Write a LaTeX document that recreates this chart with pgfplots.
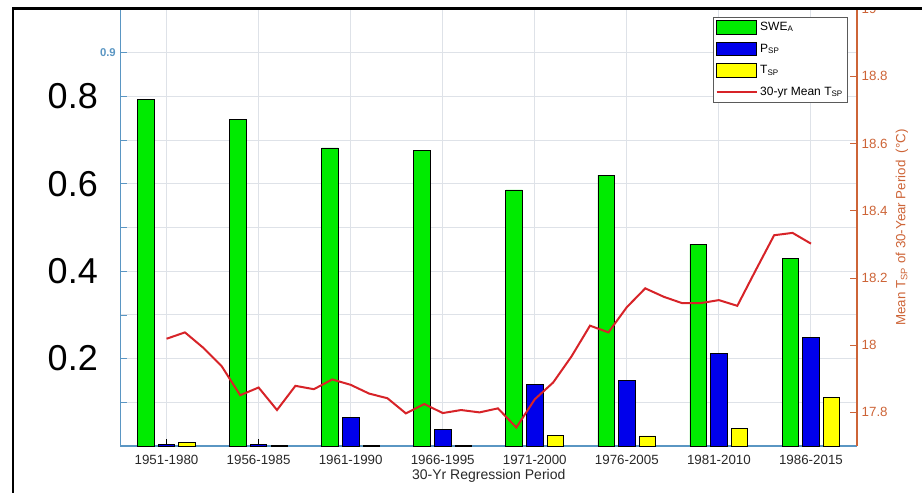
\documentclass[border=0pt]{standalone}
\usepackage{fontspec}
\setmainfont{Liberation Sans}
\usepackage{pgfplots}
\pgfplotsset{compat=1.18}
\usepackage{pgfplotstable}

\definecolor{swegreen}{RGB}{0,235,0}
\definecolor{pblue}{RGB}{0,0,235}
\definecolor{tyellow}{RGB}{255,255,0}
\definecolor{meanred}{RGB}{215,35,40}
\definecolor{leftaxis}{RGB}{90,150,195}
\definecolor{rightaxis}{RGB}{205,100,55}
\definecolor{gridgray}{RGB}{222,226,232}
\definecolor{ticktext}{RGB}{40,40,40}
\definecolor{legframe}{RGB}{90,90,90}

% regression weights per 30-year period
\pgfplotstableread{
period swe   psp   tsp
1      0.794 0.003 0.009
2      0.748 0.003 0.001
3      0.682 0.066 0.002
4      0.677 0.037 0.001
5      0.586 0.140 0.024
6      0.620 0.149 0.023
7      0.462 0.211 0.040
8      0.430 0.248 0.111
}\regression

% 30-yr running mean of T_SP, one value per start year (1951 ... 1986)
\pgfplotstableread{
x   T
1.0 18.019
1.2 18.038
1.4 17.992
1.6 17.937
1.8 17.851
2.0 17.874
2.2 17.807
2.4 17.879
2.6 17.869
2.8 17.898
3.0 17.882
3.2 17.856
3.4 17.842
3.6 17.797
3.8 17.825
4.0 17.798
4.2 17.807
4.4 17.800
4.6 17.812
4.8 17.755
5.0 17.839
5.2 17.889
5.4 17.967
5.6 18.058
5.8 18.038
6.0 18.113
6.2 18.169
6.4 18.144
6.6 18.125
6.8 18.125
7.0 18.134
7.2 18.117
7.4 18.223
7.6 18.327
7.8 18.334
8.0 18.302
}\meantemp

\pgfplotsset{
  commonframe/.style={
    width=552.375pt, height=327.75pt, scale only axis,
    at={(90.375pt,-334.5pt)}, anchor=south west,
    xmin=0.5, xmax=8.5,
    tick align=inside, major tick length=5.25pt,
  },
  barstyle/.style={ybar, bar width=0.18, draw=black, line width=0.6pt},
  boxlegend/.style={legend image code/.code={\draw[##1] (0pt,-5pt) rectangle (30pt,5pt);}},
  linelegend/.style={legend image code/.code={\draw[##1] (0pt,0pt) -- (30pt,0pt);}},
}

\begin{document}
\begin{tikzpicture}
\useasboundingbox (0,0) rectangle (691.5pt,-369.75pt);
\begin{scope}
\clip (0,-5.25pt) rectangle (691.5pt,-369.75pt);

\begin{axis}[
  commonframe,
  ymin=0, ymax=1,
  axis x line*=bottom, axis y line*=left,
  x axis line style={leftaxis, line width=0.8pt},
  y axis line style={leftaxis, line width=0.8pt},
  xtick={1,2,3,4,5,6,7,8},
  xticklabels={1951-1980,1956-1985,1961-1990,1966-1995,1971-2000,1976-2005,1981-2010,1986-2015},
  xticklabel style={font=\fontsize{10}{12}\selectfont, ticktext, yshift=-3.5pt},
  xtick style={black, line width=0.6pt},
  ytick={0,0.1,0.2,0.3,0.4,0.5,0.6,0.7,0.8,0.9,1},
  yticklabels={,,,,,,,,,0.9,},
  yticklabel style={font=\fontsize{8.5}{9}\selectfont\bfseries, leftaxis},
  ytick style={leftaxis, line width=0.6pt},
  extra y ticks={0.2,0.4,0.6,0.8},
  extra y tick labels={0.2,0.4,0.6,0.8},
  extra y tick style={yticklabel style={font=\fontsize{27}{28}\selectfont, black, xshift=-13.5pt}},
  xmajorgrids, ymajorgrids,
  grid style={gridgray, line width=0.75pt},
  xlabel={30-Yr Regression Period},
  xlabel style={font=\fontsize{10.5}{12}\selectfont, ticktext,
    at={(axis description cs:0.5,0)}, anchor=center, yshift=-22.5pt},
]
\addplot[barstyle, bar shift=-0.224, fill=swegreen] table[x=period, y=swe] {\regression};
\addplot[barstyle, bar shift=0,      fill=pblue]    table[x=period, y=psp] {\regression};
\addplot[barstyle, bar shift=0.224,  fill=tyellow]  table[x=period, y=tsp] {\regression};
\end{axis}

\begin{axis}[
  commonframe,
  ymin=17.7, ymax=19,
  axis y line*=right, axis x line=none,
  y axis line style={rightaxis, line width=0.8pt},
  ytick={17.8,18,18.2,18.4,18.6,18.8,19},
  yticklabel style={font=\fontsize{10}{12}\selectfont, rightaxis},
  /pgf/number format/assume math mode=true,
  ytick style={rightaxis, line width=0.6pt},
  ylabel={Mean T\textsubscript{SP} of 30-Year Period\ \ (°C)},
  ylabel style={font=\fontsize{10}{12}\selectfont, rightaxis,
    at={(axis description cs:1,0.5)}, anchor=center, yshift=-33.75pt},
  legend cell align=left,
  legend style={at={(axis description cs:0.9878,0.9817)}, anchor=north east,
    draw=legframe, line width=0.6pt, fill=white,
    font=\fontsize{9}{10}\selectfont, inner sep=1.5pt, row sep=4.5pt},
]
\addlegendimage{boxlegend, fill=swegreen, draw=black, line width=0.6pt}
\addlegendentry{SWE\textsubscript{A}}
\addlegendimage{boxlegend, fill=pblue, draw=black, line width=0.6pt}
\addlegendentry{P\textsubscript{SP}}
\addlegendimage{boxlegend, fill=tyellow, draw=black, line width=0.6pt}
\addlegendentry{T\textsubscript{SP}}
\addplot[meanred, line width=1.5pt, linelegend] table[x=x, y=T] {\meantemp};
\addlegendentry{30-yr Mean T\textsubscript{SP}}
\end{axis}
\end{scope}

% outer figure frame
\draw[black, line width=1.9pt, line join=miter] (9.6pt,-380pt) -- (9.6pt,-6.2pt) -- (700pt,-6.2pt);
\end{tikzpicture}
\end{document}
